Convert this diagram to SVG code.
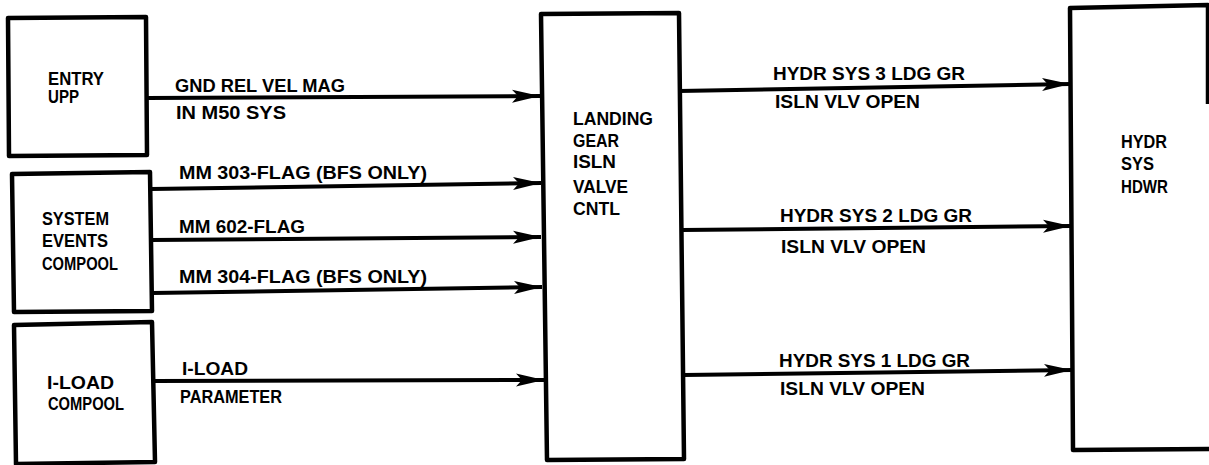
<svg xmlns="http://www.w3.org/2000/svg" width="1209" height="465" viewBox="0 0 1209 465">
<defs>
<style>
.box{fill:#fff;stroke:#000;stroke-width:4.5;stroke-linejoin:round}
.ln{fill:none;stroke:#000;stroke-width:4}
text{font-family:"Liberation Sans",Arial,sans-serif;font-weight:bold;font-size:18px;fill:#000}
</style>
<marker id="ah" markerUnits="userSpaceOnUse" markerWidth="30" markerHeight="16" refX="28" refY="7" orient="auto" viewBox="0 0 30 16">
<path d="M0,0.5 L28,7 L0,13.5 L6,7 Z" fill="#000"/>
</marker>
</defs>
<rect width="1209" height="465" fill="#fff"/>

<g id="entry-upp">
<path class="box" d="M8,18 L146,17 L147,155 L9,156 Z"/>
<text x="48" y="85" textLength="56" lengthAdjust="spacingAndGlyphs">ENTRY</text>
<text x="48" y="103" textLength="31" lengthAdjust="spacingAndGlyphs">UPP</text>
</g>

<g id="system-events-compool">
<path class="box" d="M12,174 L150,172 L152,311 L14,312 Z"/>
<text x="42" y="225" textLength="67" lengthAdjust="spacingAndGlyphs">SYSTEM</text>
<text x="42" y="247" textLength="66" lengthAdjust="spacingAndGlyphs">EVENTS</text>
<text x="42" y="270" textLength="76" lengthAdjust="spacingAndGlyphs">COMPOOL</text>
</g>

<g id="i-load-compool">
<path class="box" d="M14,325 L152,322 L155,462 L16,464 Z"/>
<text x="47" y="389" textLength="67" lengthAdjust="spacingAndGlyphs">I-LOAD</text>
<text x="48" y="410" textLength="76" lengthAdjust="spacingAndGlyphs">COMPOOL</text>
</g>

<g id="landing-gear-isln-valve-cntl">
<path class="box" d="M541,14 L679,13 L684,459 L547,460 Z"/>
<text x="573" y="125" textLength="80" lengthAdjust="spacingAndGlyphs">LANDING</text>
<text x="573" y="147" textLength="46" lengthAdjust="spacingAndGlyphs">GEAR</text>
<text x="573" y="168" textLength="43" lengthAdjust="spacingAndGlyphs">ISLN</text>
<text x="573" y="193" textLength="55" lengthAdjust="spacingAndGlyphs">VALVE</text>
<text x="573" y="215" textLength="47" lengthAdjust="spacingAndGlyphs">CNTL</text>
</g>

<g id="hydr-sys-hdwr">
<path class="box" d="M1208,104 L1208,5 L1070,8 L1073,450 L1209,449"/>
<text x="1121" y="148" textLength="46" lengthAdjust="spacingAndGlyphs">HYDR</text>
<text x="1121" y="170" textLength="33" lengthAdjust="spacingAndGlyphs">SYS</text>
<text x="1121" y="193" textLength="47" lengthAdjust="spacingAndGlyphs">HDWR</text>
</g>

<g id="connectors">
<path class="ln" marker-end="url(#ah)" d="M147,98 L540,96"/>
<path class="ln" marker-end="url(#ah)" d="M151,189 L541,183"/>
<path class="ln" marker-end="url(#ah)" d="M151,240 L541,237"/>
<path class="ln" marker-end="url(#ah)" d="M152,293 L542,287"/>
<path class="ln" marker-end="url(#ah)" d="M154,381 L544,380"/>
<path class="ln" marker-end="url(#ah)" d="M679,91 L1070,84"/>
<path class="ln" marker-end="url(#ah)" d="M682,230 L1071,226"/>
<path class="ln" marker-end="url(#ah)" d="M684,375 L1072,370"/>

<text x="175" y="92" textLength="170" lengthAdjust="spacingAndGlyphs">GND REL VEL MAG</text>
<text x="176" y="119" textLength="110" lengthAdjust="spacingAndGlyphs">IN M50 SYS</text>
<text x="179" y="179" textLength="248" lengthAdjust="spacingAndGlyphs">MM 303-FLAG (BFS ONLY)</text>
<text x="179" y="233" textLength="126" lengthAdjust="spacingAndGlyphs">MM 602-FLAG</text>
<text x="179" y="283" textLength="248" lengthAdjust="spacingAndGlyphs">MM 304-FLAG (BFS ONLY)</text>
<text x="182" y="375" textLength="66" lengthAdjust="spacingAndGlyphs">I-LOAD</text>
<text x="180" y="403" textLength="102" lengthAdjust="spacingAndGlyphs">PARAMETER</text>
<text x="773" y="80" textLength="192" lengthAdjust="spacingAndGlyphs">HYDR SYS 3 LDG GR</text>
<text x="775" y="108" textLength="145" lengthAdjust="spacingAndGlyphs">ISLN VLV OPEN</text>
<text x="780" y="222" textLength="192" lengthAdjust="spacingAndGlyphs">HYDR SYS 2 LDG GR</text>
<text x="781" y="253" textLength="145" lengthAdjust="spacingAndGlyphs">ISLN VLV OPEN</text>
<text x="779" y="367" textLength="191" lengthAdjust="spacingAndGlyphs">HYDR SYS 1 LDG GR</text>
<text x="780" y="395" textLength="145" lengthAdjust="spacingAndGlyphs">ISLN VLV OPEN</text>
</g>
</svg>
